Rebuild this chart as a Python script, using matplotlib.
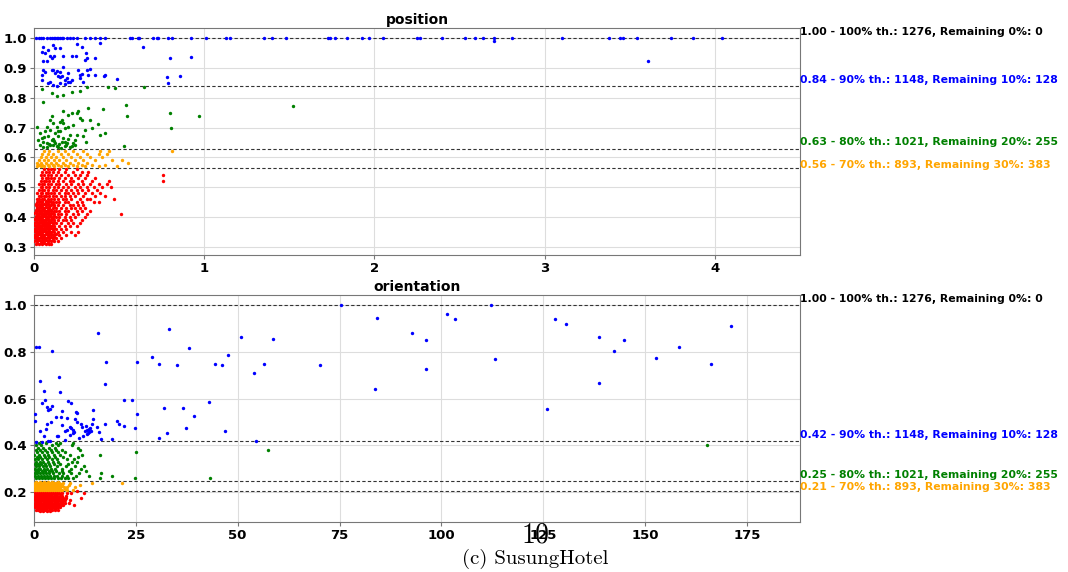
import matplotlib.pyplot as plt
from matplotlib import transforms

# ---- position panel data (score vs. error) ----
pos_red_rows = [
    (0.31, [0.01, 0.03, 0.05, 0.07, 0.09, 0.10]),
    (0.32, [0.0, 0.02, 0.04, 0.05, 0.06, 0.08, 0.10, 0.12, 0.14]),
    (0.33, [0.01, 0.02, 0.03, 0.05, 0.06, 0.07, 0.09, 0.11, 0.13, 0.16]),
    (0.34, [0.0, 0.01, 0.02, 0.04, 0.05, 0.06, 0.08, 0.09, 0.11, 0.12, 0.15, 0.19, 0.24]),
    (0.35, [0.01, 0.02, 0.03, 0.04, 0.05, 0.07, 0.08, 0.10, 0.12, 0.14, 0.17, 0.22, 0.26]),
    (0.36, [0.0, 0.01, 0.03, 0.04, 0.05, 0.06, 0.07, 0.09, 0.11, 0.13, 0.16, 0.19]),
    (0.37, [0.01, 0.02, 0.03, 0.04, 0.06, 0.07, 0.08, 0.10, 0.12, 0.15, 0.18, 0.21, 0.25]),
    (0.38, [0.0, 0.02, 0.03, 0.05, 0.06, 0.07, 0.08, 0.09, 0.11, 0.13, 0.16, 0.20, 0.23, 0.27]),
    (0.39, [0.01, 0.02, 0.04, 0.05, 0.06, 0.08, 0.09, 0.10, 0.12, 0.14, 0.17, 0.19, 0.22, 0.28]),
    (0.40, [0.01, 0.03, 0.04, 0.05, 0.07, 0.08, 0.10, 0.11, 0.13, 0.15, 0.18, 0.21, 0.24, 0.30]),
    (0.41, [0.02, 0.03, 0.05, 0.06, 0.07, 0.09, 0.10, 0.12, 0.14, 0.16, 0.19, 0.23, 0.26, 0.31, 0.51]),
    (0.42, [0.01, 0.03, 0.04, 0.06, 0.07, 0.08, 0.10, 0.12, 0.13, 0.15, 0.18, 0.20, 0.25, 0.28, 0.33]),
    (0.43, [0.02, 0.03, 0.05, 0.06, 0.08, 0.09, 0.11, 0.13, 0.16, 0.19, 0.22, 0.24, 0.27, 0.30]),
    (0.44, [0.01, 0.03, 0.04, 0.05, 0.07, 0.09, 0.10, 0.12, 0.14, 0.17, 0.21, 0.23, 0.26, 0.29]),
    (0.45, [0.02, 0.04, 0.05, 0.07, 0.08, 0.10, 0.11, 0.13, 0.15, 0.18, 0.20, 0.25, 0.28, 0.35, 0.38]),
    (0.46, [0.02, 0.03, 0.05, 0.06, 0.08, 0.10, 0.12, 0.14, 0.17, 0.19, 0.22, 0.27, 0.31, 0.33, 0.47]),
    (0.47, [0.03, 0.04, 0.06, 0.07, 0.09, 0.11, 0.13, 0.16, 0.18, 0.21, 0.24, 0.29, 0.36, 0.42]),
    (0.48, [0.02, 0.04, 0.05, 0.07, 0.08, 0.10, 0.12, 0.15, 0.18, 0.20, 0.23, 0.26, 0.30, 0.34, 0.39]),
    (0.49, [0.03, 0.05, 0.06, 0.08, 0.11, 0.13, 0.16, 0.19, 0.22, 0.25, 0.28, 0.32, 0.37]),
    (0.50, [0.04, 0.05, 0.07, 0.09, 0.12, 0.14, 0.17, 0.20, 0.24, 0.27, 0.31, 0.35, 0.40, 0.45]),
    (0.51, [0.03, 0.05, 0.06, 0.08, 0.10, 0.13, 0.15, 0.19, 0.22, 0.26, 0.29, 0.33, 0.38, 0.43]),
    (0.52, [0.04, 0.06, 0.07, 0.09, 0.11, 0.14, 0.17, 0.21, 0.23, 0.28, 0.34, 0.44, 0.76]),
    (0.53, [0.05, 0.07, 0.08, 0.10, 0.12, 0.15, 0.18, 0.22, 0.26, 0.30, 0.36]),
    (0.54, [0.04, 0.06, 0.08, 0.10, 0.13, 0.16, 0.20, 0.24, 0.27, 0.31, 0.76]),
    (0.55, [0.05, 0.07, 0.09, 0.11, 0.14, 0.18, 0.23, 0.28, 0.32]),
    (0.56, [0.06, 0.08, 0.10, 0.12, 0.15, 0.19, 0.25]),
]

# a second, staggered set of readings for the dense core of the red cloud
pos_red_core_rows = [
    (0.315, [0.02, 0.04, 0.06, 0.08]),
    (0.325, [0.01, 0.03, 0.05, 0.07, 0.09, 0.11]),
    (0.335, [0.0, 0.02, 0.04, 0.06, 0.08, 0.10, 0.12]),
    (0.345, [0.01, 0.03, 0.05, 0.07, 0.09, 0.10, 0.13]),
    (0.355, [0.0, 0.02, 0.04, 0.06, 0.08, 0.09, 0.11]),
    (0.365, [0.01, 0.02, 0.04, 0.05, 0.07, 0.09, 0.10, 0.12]),
    (0.375, [0.0, 0.02, 0.03, 0.05, 0.06, 0.08, 0.09, 0.11]),
    (0.385, [0.01, 0.03, 0.04, 0.06, 0.07, 0.09, 0.10, 0.12]),
    (0.395, [0.0, 0.02, 0.03, 0.05, 0.07, 0.08, 0.11]),
    (0.405, [0.01, 0.02, 0.04, 0.06, 0.08, 0.09, 0.12]),
    (0.415, [0.0, 0.02, 0.04, 0.05, 0.07, 0.09, 0.11]),
    (0.425, [0.01, 0.03, 0.05, 0.06, 0.08, 0.10]),
    (0.435, [0.02, 0.04, 0.05, 0.07, 0.09, 0.12]),
    (0.445, [0.01, 0.03, 0.06, 0.08, 0.11]),
    (0.455, [0.03, 0.05, 0.07, 0.09]),
]

pos_orange_rows = [
    (0.57, [0.02, 0.04, 0.06, 0.09, 0.12, 0.16, 0.20, 0.25, 0.30, 0.38, 0.49]),
    (0.575, [0.03, 0.05, 0.08, 0.11, 0.14, 0.18, 0.23, 0.28, 0.34, 0.42]),
    (0.58, [0.02, 0.04, 0.07, 0.10, 0.13, 0.17, 0.21, 0.26, 0.31, 0.55]),
    (0.59, [0.03, 0.06, 0.08, 0.12, 0.15, 0.19, 0.24, 0.29, 0.36, 0.46, 0.52]),
    (0.60, [0.04, 0.07, 0.10, 0.13, 0.17, 0.22, 0.27, 0.33, 0.40]),
    (0.61, [0.05, 0.08, 0.11, 0.16, 0.20, 0.25, 0.31, 0.38, 0.43]),
    (0.62, [0.06, 0.09, 0.14, 0.18, 0.23, 0.29, 0.39, 0.44, 0.81]),
]

pos_green = [
    (0.049, 0.829), (0.051, 0.784), (0.104, 0.817), (0.137, 0.804), (0.173, 0.808),
    (0.222, 0.820), (0.271, 0.822), (0.314, 0.837), (0.437, 0.834), (0.476, 0.831),
    (0.647, 0.837), (0.541, 0.776), (0.549, 0.739), (0.800, 0.747), (0.804, 0.697),
    (0.967, 0.738), (1.520, 0.771), (0.529, 0.637),
    (0.016, 0.703), (0.025, 0.659), (0.035, 0.681), (0.045, 0.664), (0.055, 0.653),
    (0.065, 0.687), (0.075, 0.703), (0.075, 0.648), (0.084, 0.670), (0.094, 0.726),
    (0.094, 0.692), (0.104, 0.737), (0.104, 0.659), (0.114, 0.715), (0.114, 0.642),
    (0.124, 0.681), (0.124, 0.648), (0.133, 0.703), (0.133, 0.637), (0.143, 0.670),
    (0.153, 0.720), (0.153, 0.687), (0.163, 0.726), (0.163, 0.653), (0.173, 0.754),
    (0.173, 0.664), (0.182, 0.698), (0.182, 0.637), (0.192, 0.648), (0.202, 0.742),
    (0.202, 0.703), (0.212, 0.676), (0.222, 0.748), (0.222, 0.637), (0.231, 0.648),
    (0.241, 0.659), (0.251, 0.676), (0.255, 0.750), (0.261, 0.754), (0.271, 0.731),
    (0.280, 0.726), (0.290, 0.670), (0.300, 0.692), (0.306, 0.653), (0.320, 0.765),
    (0.329, 0.726), (0.339, 0.698), (0.378, 0.712), (0.388, 0.676), (0.408, 0.761),
    (0.418, 0.681), (0.075, 0.635), (0.143, 0.634), (0.035, 0.640), (0.055, 0.636),
    (0.160, 0.633), (0.190, 0.640), (0.210, 0.634), (0.090, 0.645), (0.110, 0.660),
    (0.060, 0.668), (0.140, 0.690), (0.170, 0.715), (0.200, 0.660), (0.240, 0.640),
    (0.120, 0.655), (0.095, 0.640), (0.180, 0.650), (0.230, 0.710), (0.150, 0.645),
]

pos_blue_top_x = [0.01, 0.03, 0.04, 0.055, 0.075, 0.095, 0.105, 0.115, 0.125, 0.134,
                  0.144, 0.153, 0.163, 0.173, 0.192, 0.21, 0.23, 0.25, 0.30, 0.33,
                  0.36, 0.39, 0.42, 0.565, 0.575, 0.61, 0.62, 0.70, 0.72, 0.73,
                  0.79, 0.81, 0.92, 1.01, 1.13, 1.15, 1.35, 1.40, 1.48, 1.73,
                  1.74, 1.77, 1.84, 1.93, 1.97, 2.05, 2.25, 2.27, 2.40, 2.53,
                  2.59, 2.64, 2.70, 2.81, 3.10, 3.38, 3.44, 3.46, 3.54, 3.74,
                  3.87, 4.04]

pos_blue = [
    (2.70, 0.990), (3.61, 0.922),
    (0.045, 0.954), (0.055, 0.971), (0.065, 0.949), (0.051, 0.921), (0.075, 0.923),
    (0.084, 0.960), (0.094, 0.938), (0.104, 0.932), (0.114, 0.977), (0.124, 0.965),
    (0.118, 0.938), (0.055, 0.891), (0.065, 0.887), (0.104, 0.891), (0.114, 0.893),
    (0.124, 0.884), (0.137, 0.890), (0.153, 0.887), (0.173, 0.904), (0.143, 0.871),
    (0.153, 0.868), (0.163, 0.873), (0.182, 0.860), (0.192, 0.865), (0.202, 0.882),
    (0.212, 0.854), (0.222, 0.860), (0.251, 0.979), (0.247, 0.940), (0.261, 0.893),
    (0.271, 0.876), (0.280, 0.880), (0.222, 0.940), (0.271, 0.865), (0.306, 0.949),
    (0.314, 0.932), (0.300, 0.926), (0.280, 0.971), (0.153, 0.965), (0.173, 0.940),
    (0.084, 0.848), (0.094, 0.851), (0.114, 0.843), (0.133, 0.840), (0.045, 0.860),
    (0.045, 0.876), (0.310, 0.893), (0.320, 0.876), (0.329, 0.895), (0.359, 0.876),
    (0.290, 0.852), (0.359, 0.932), (0.388, 0.984), (0.418, 0.875), (0.412, 0.871),
    (0.486, 0.862), (0.643, 0.969), (0.780, 0.868), (0.790, 0.848), (0.859, 0.871),
    (0.920, 0.935), (0.800, 0.934), (0.180, 0.845), (0.155, 0.850), (0.200, 0.852),
]

# ---- orientation panel data ----
ori_red_rows = [
    (0.118, [1.5, 2.3, 3.1, 4.0]),
    (0.125, [0.6, 1.1, 1.7, 2.2, 2.8, 3.3, 3.9, 4.5, 5.2, 5.8]),
    (0.130, [0.9, 1.4, 2.0, 2.5, 3.0, 3.6, 4.2, 4.8, 5.5]),
    (0.135, [0.3, 0.8, 1.3, 1.8, 2.3, 2.9, 3.4, 4.0, 4.6, 5.2, 5.9, 6.5]),
    (0.140, [0.5, 1.0, 1.5, 2.0, 2.6, 3.1, 3.7, 4.3, 4.9, 5.6, 6.2]),
    (0.145, [0.2, 0.7, 1.2, 1.7, 2.2, 2.7, 3.2, 3.8, 4.3, 4.9, 5.5, 6.1, 6.7, 7.2, 9.9]),
    (0.150, [0.4, 0.9, 1.4, 2.0, 2.5, 3.0, 3.6, 4.1, 4.7, 5.3, 5.9, 6.5, 7.0]),
    (0.155, [0.3, 0.8, 1.3, 1.8, 2.4, 2.9, 3.4, 4.0, 4.5, 5.1, 5.7, 6.3, 6.9, 7.5, 8.6]),
    (0.160, [0.5, 1.0, 1.5, 2.1, 2.6, 3.1, 3.7, 4.2, 4.8, 5.4, 6.0, 6.6, 7.2]),
    (0.165, [0.2, 0.7, 1.2, 1.7, 2.2, 2.7, 3.3, 3.8, 4.4, 5.0, 5.6, 6.2, 6.8, 7.6, 8.8]),
    (0.170, [0.4, 0.9, 1.5, 2.0, 2.5, 3.1, 3.6, 4.2, 4.8, 5.4, 6.0, 6.7, 7.3]),
    (0.175, [0.3, 0.8, 1.4, 1.9, 2.4, 3.0, 3.5, 4.1, 4.7, 5.3, 5.9, 6.5, 7.2, 7.9, 11.5]),
    (0.180, [0.5, 1.0, 1.6, 2.1, 2.6, 3.2, 3.7, 4.3, 4.9, 5.5, 6.1, 6.8]),
    (0.185, [0.2, 0.7, 1.2, 1.8, 2.3, 2.8, 3.4, 3.9, 4.5, 5.1, 5.7, 6.3, 7.0, 7.8]),
    (0.190, [0.4, 1.0, 1.5, 2.1, 2.6, 3.2, 3.7, 4.3, 4.9, 5.6, 6.4]),
    (0.195, [0.3, 0.8, 1.3, 1.9, 2.4, 3.0, 3.5, 4.1, 4.7, 5.4, 6.0, 6.8, 8.2, 9.1, 12.4]),
    (0.203, [0.2, 0.7, 1.2, 1.7, 2.2, 2.8, 3.3, 3.9, 4.5, 5.1, 5.8, 6.6, 10.6]),
]

ori_orange_rows = [
    (0.21, [0.1, 0.5, 1.0, 1.5, 2.0, 2.5, 3.0, 3.5, 4.0, 4.5, 5.0, 5.5, 6.0, 6.5, 7.0, 8.0, 9.5]),
    (0.215, [0.3, 0.8, 1.3, 1.8, 2.3, 2.8, 3.3, 3.8, 4.3, 4.8, 5.3, 5.8, 6.3, 7.5]),
    (0.22, [0.2, 0.7, 1.2, 1.7, 2.2, 2.7, 3.2, 3.7, 4.2, 4.7, 5.3, 5.9, 6.5, 7.3, 8.2, 10.0]),
    (0.225, [0.4, 0.9, 1.4, 1.9, 2.4, 2.9, 3.4, 3.9, 4.4, 4.9, 5.6, 6.2, 6.8]),
    (0.23, [0.1, 0.6, 1.1, 1.6, 2.1, 2.6, 3.1, 3.6, 4.1, 4.6, 5.1, 5.7, 6.3, 7.0, 8.5, 11.3]),
    (0.235, [0.3, 0.8, 1.3, 1.8, 2.3, 2.8, 3.3, 3.8, 4.4, 5.0, 5.8, 6.6]),
    (0.24, [0.3, 0.8, 1.3, 1.8, 2.3, 2.9, 3.4, 4.0, 4.8, 5.5, 6.2, 7.2, 8.8, 14.2, 21.5]),
    (0.245, [0.5, 1.5, 2.5, 3.5, 4.5, 6.0]),
]

ori_green_rows = [
    (0.26, [0.5, 1.2, 2.0, 2.8, 3.5, 4.3, 5.0, 5.8, 6.6, 7.5, 8.4, 9.5, 16.2, 24.8, 43.1]),
    (0.27, [0.3, 1.0, 1.7, 2.4, 3.2, 4.0, 4.8, 5.6, 7.0, 8.0, 10.2, 13.5, 19.1]),
    (0.28, [0.2, 0.8, 1.5, 2.2, 3.0, 3.8, 4.6, 6.2, 7.2, 9.0, 11.0, 16.5]),
    (0.29, [0.4, 1.1, 1.9, 2.7, 3.6, 4.4, 5.5, 6.8, 8.5, 12.8]),
    (0.30, [0.2, 0.9, 1.6, 2.5, 3.3, 4.2, 5.2, 7.0, 9.2, 11.5]),
    (0.31, [0.5, 1.3, 2.1, 3.0, 4.0, 5.6, 7.8, 10.0, 12.2]),
    (0.32, [0.3, 1.0, 1.8, 2.7, 3.8, 5.0, 6.5, 8.3]),
    (0.33, [0.6, 1.4, 2.3, 3.4, 4.6, 6.0, 9.4, 10.5]),
    (0.34, [0.2, 1.1, 2.0, 3.1, 4.5, 5.7, 8.0, 9.8]),
    (0.35, [0.7, 1.6, 2.6, 3.7, 5.2, 7.2, 10.8]),
    (0.36, [0.1, 1.2, 2.4, 3.5, 4.8, 6.3, 8.8, 11.8, 16.2]),
    (0.37, [0.8, 1.9, 3.2, 4.4, 5.9, 7.6, 25.1]),
    (0.38, [0.4, 1.5, 2.8, 4.1, 5.5, 7.0, 11.4, 57.5]),
    (0.39, [1.0, 2.2, 3.8, 5.2, 10.8]),
    (0.40, [0.5, 1.8, 4.4, 6.0, 9.3, 165.3]),
    (0.41, [1.2, 3.0, 5.5, 6.5, 9.6]),
]

ori_blue = [
    (0.5, 0.819), (1.3, 0.822), (4.5, 0.806), (15.8, 0.883), (17.6, 0.755),
    (17.4, 0.663), (6.1, 0.693), (1.6, 0.674), (6.4, 0.627), (2.5, 0.634),
    (2.7, 0.596), (2.0, 0.580), (3.1, 0.566), (3.5, 0.553), (4.5, 0.569),
    (3.9, 0.554), (8.3, 0.589), (9.1, 0.580), (6.9, 0.547), (5.3, 0.522),
    (4.2, 0.502), (3.1, 0.493), (2.9, 0.469), (1.6, 0.460), (0.2, 0.533),
    (0.2, 0.505), (0.6, 0.416), (2.0, 0.416), (3.4, 0.420), (5.7, 0.438),
    (6.9, 0.488), (6.7, 0.522), (8.0, 0.519), (10.2, 0.543), (10.6, 0.540),
    (10.0, 0.513), (10.5, 0.502), (8.0, 0.465), (8.8, 0.480), (9.2, 0.473),
    (9.5, 0.465), (9.8, 0.459), (8.8, 0.445), (7.7, 0.424), (11.7, 0.480),
    (12.8, 0.485), (13.0, 0.466), (13.4, 0.459), (13.8, 0.473), (13.1, 0.448),
    (14.2, 0.490), (14.5, 0.513), (14.6, 0.552), (15.4, 0.480), (16.0, 0.456),
    (16.4, 0.426), (17.4, 0.492), (19.1, 0.428), (20.5, 0.506), (20.9, 0.492),
    (22.0, 0.483), (22.0, 0.594), (24.1, 0.593), (24.8, 0.475), (25.2, 0.536),
    (25.2, 0.758), (28.9, 0.777), (30.6, 0.747), (33.1, 0.898), (35.2, 0.742),
    (38.0, 0.816), (31.8, 0.559), (30.7, 0.433), (32.7, 0.451), (36.6, 0.559),
    (37.4, 0.473), (39.3, 0.527), (42.9, 0.586), (44.5, 0.748), (46.2, 0.742),
    (47.7, 0.785), (46.9, 0.460), (50.8, 0.862), (53.9, 0.710), (54.5, 0.419),
    (56.4, 0.748), (58.7, 0.855), (70.3, 0.742), (75.3, 1.000), (84.1, 0.946),
    (83.8, 0.643), (92.9, 0.879), (96.1, 0.851), (96.1, 0.728), (101.4, 0.963),
    (103.4, 0.942), (112.1, 1.000), (113.2, 0.768), (125.9, 0.554), (127.8, 0.942),
    (130.7, 0.920), (138.6, 0.863), (138.7, 0.667), (142.4, 0.805), (144.8, 0.849),
    (152.7, 0.772), (158.3, 0.821), (166.2, 0.747), (171.0, 0.910),
    (13.3, 0.455), (13.6, 0.470), (14.0, 0.460), (12.5, 0.460), (11.0, 0.430),
    (12.0, 0.440), (9.5, 0.455), (6.0, 0.440), (4.0, 0.420), (2.5, 0.440),
    (7.5, 0.460), (11.5, 0.490),
]

# thresholds and labels
thr_colors = ["black", "blue", "green", "orange"]
pos_thr = [1.00, 0.838, 0.629, 0.563]
pos_labels = ["1.00 - 100% th.: 1276, Remaining 0%: 0",
              "0.84 - 90% th.: 1148, Remaining 10%: 128",
              "0.63 - 80% th.: 1021, Remaining 20%: 255",
              "0.56 - 70% th.: 893, Remaining 30%: 383"]
ori_thr = [1.00, 0.418, 0.246, 0.205]
ori_labels = ["1.00 - 100% th.: 1276, Remaining 0%: 0",
              "0.42 - 90% th.: 1148, Remaining 10%: 128",
              "0.25 - 80% th.: 1021, Remaining 20%: 255",
              "0.21 - 70% th.: 893, Remaining 30%: 383"]


def rows_to_xy(*row_sets):
    xs, ys = [], []
    for rows in row_sets:
        for y, xlist in rows:
            for x in xlist:
                xs.append(x)
                ys.append(y)
    return xs, ys


def draw_panel(ax, fig, groups, thr, labels, title, text_dy):
    for xs, ys, c in groups:
        ax.scatter(xs, ys, s=6, c=c, linewidths=0, zorder=3)
    for t in thr:
        ax.axhline(t, color="#333333", lw=0.8, ls=(0, (3, 2)), zorder=2)
    for t, lab, c, dy in zip(thr, labels, thr_colors, text_dy):
        trans = transforms.blended_transform_factory(ax.transAxes, ax.transData)
        trans = transforms.offset_copy(trans, fig=fig, x=0, y=dy, units="points")
        ax.text(1.0, t, lab, color=c, fontsize=7.8, fontweight="bold",
                ha="left", va="center", transform=trans, clip_on=False)
    ax.set_title(title, fontsize=10, fontweight="bold", pad=3)
    ax.grid(True, color="#dddddd", lw=0.8)
    ax.set_axisbelow(True)
    for sp in ax.spines.values():
        sp.set_color("#777777")
    ax.tick_params(labelsize=9.5, length=3, color="#777777", pad=2)
    for lab in ax.get_xticklabels() + ax.get_yticklabels():
        lab.set_fontweight("bold")


fig = plt.figure(figsize=(10.68, 5.72), dpi=100)
ax1 = fig.add_axes([0.0318, 0.554, 0.7172, 0.397])
ax2 = fig.add_axes([0.0318, 0.0874, 0.7172, 0.3966])

prx, pry = rows_to_xy(pos_red_rows, pos_red_core_rows)
pox, poy = rows_to_xy(pos_orange_rows)
pgx = [p[0] for p in pos_green]
pgy = [p[1] for p in pos_green]
pbx = pos_blue_top_x + [p[0] for p in pos_blue]
pby = [1.0] * len(pos_blue_top_x) + [p[1] for p in pos_blue]

ax1.set_xlim(0, 4.5)
ax1.set_ylim(0.273, 1.033)
ax1.set_xticks([0, 1, 2, 3, 4])
ax1.set_yticks([0.3, 0.4, 0.5, 0.6, 0.7, 0.8, 0.9, 1.0])
draw_panel(ax1, fig,
           [(prx, pry, "red"), (pox, poy, "orange"), (pgx, pgy, "green"), (pbx, pby, "blue")],
           pos_thr, pos_labels, "position", [4.5, 4.5, 4.5, 2.5])

orx, ory = rows_to_xy(ori_red_rows)
oox, ooy = rows_to_xy(ori_orange_rows)
ogx, ogy = rows_to_xy(ori_green_rows)
obx = [p[0] for p in ori_blue]
oby = [p[1] for p in ori_blue]

ax2.set_xlim(0, 188)
ax2.set_ylim(0.072, 1.043)
ax2.set_xticks([0, 25, 50, 75, 100, 125, 150, 175])
ax2.set_yticks([0.2, 0.4, 0.6, 0.8, 1.0])
draw_panel(ax2, fig,
           [(orx, ory, "red"), (oox, ooy, "orange"), (ogx, ogy, "green"), (obx, oby, "blue")],
           ori_thr, ori_labels, "orientation", [4.5, 4.5, 4.5, 3.0])

# leftovers from the page this figure was cut from
fig.text(0.5015, 0.064, "10", fontsize=20, family="cmr10", ha="center", va="center")
fig.text(0.5015, 0.022, "(c) SusungHotel", fontsize=15, family="cmr10", ha="center", va="center")

fig.savefig("out.png", dpi=100)
